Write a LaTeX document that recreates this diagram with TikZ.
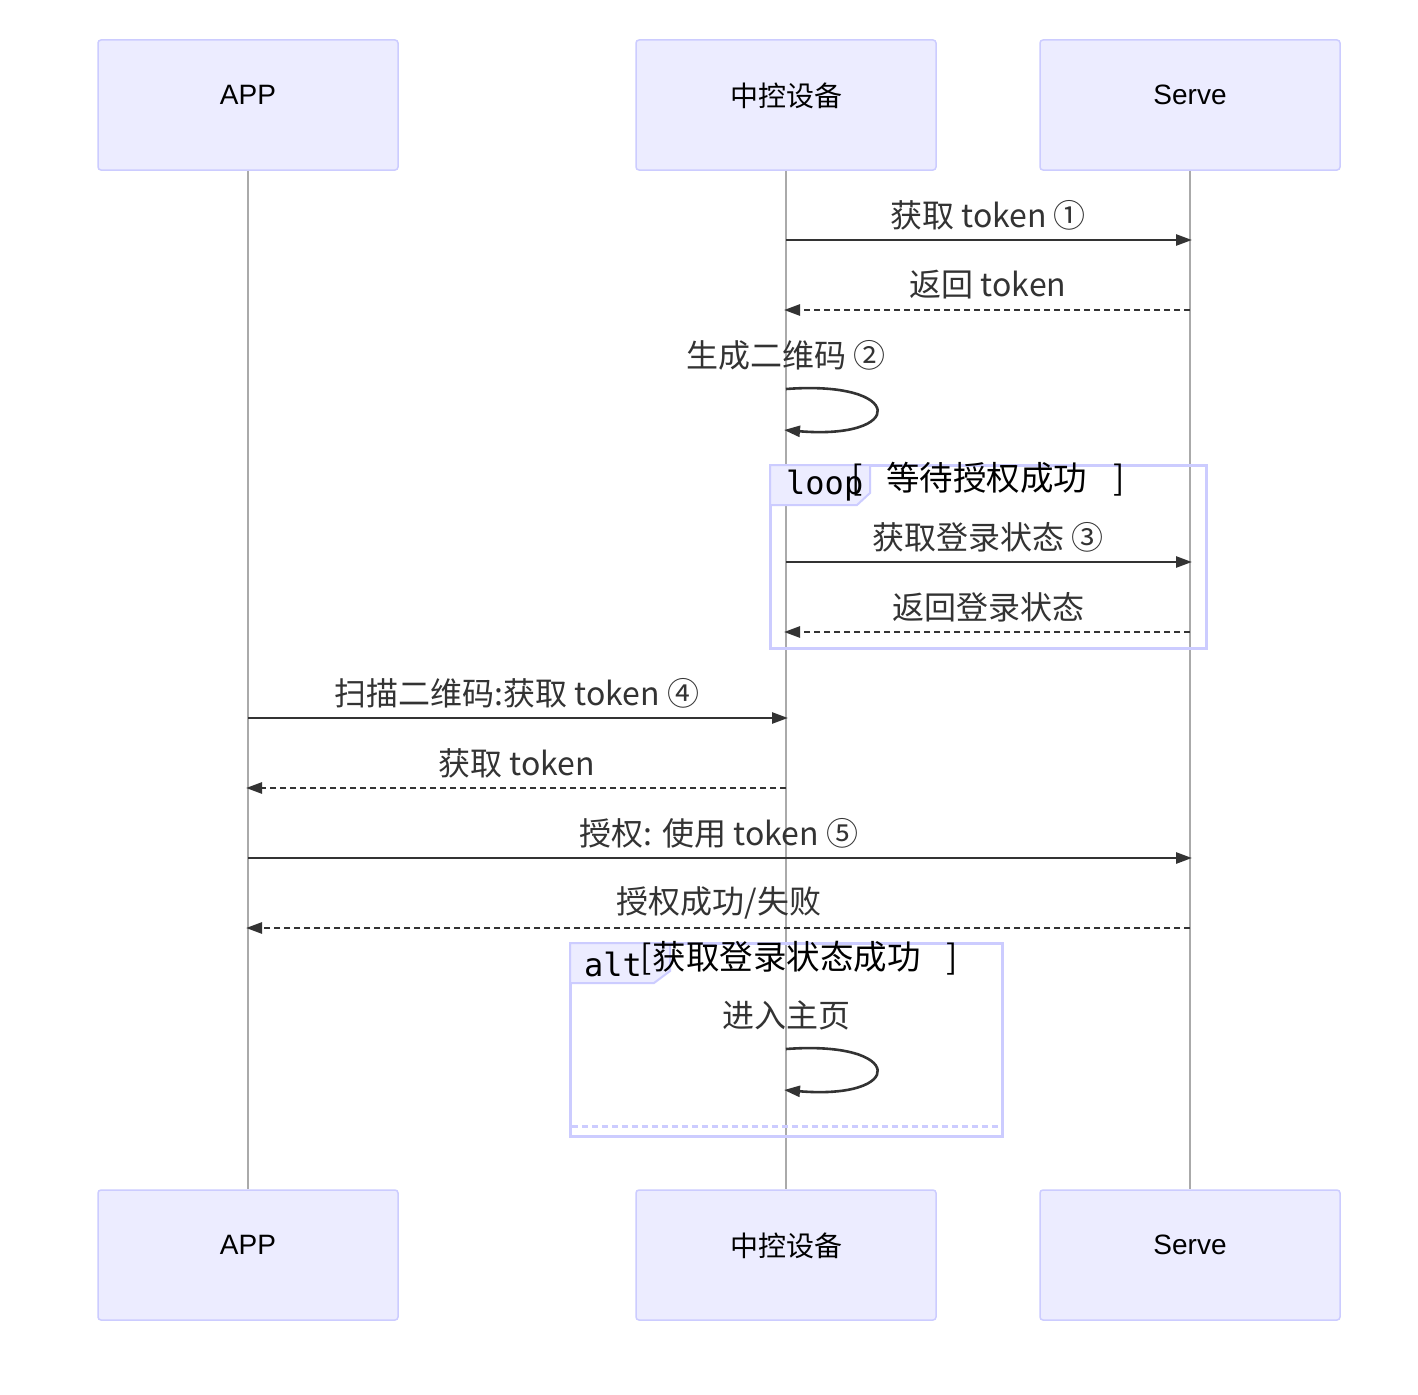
\documentclass[tikz,border=0pt]{standalone}
\usepackage{fontspec}
\setmainfont{Liberation Sans}
\newfontfamily\cjk{Noto Sans CJK SC}
\newfontfamily\monof{DejaVu Sans Mono}
\usetikzlibrary{arrows.meta}
\definecolor{actfill}{HTML}{ECECFF}
\definecolor{actdraw}{HTML}{CCCCFF}
\definecolor{msgc}{HTML}{333333}
\definecolor{lifec}{HTML}{AAAAAA}
\tikzset{
  actor/.style={draw=actdraw, fill=actfill, line width=1.5pt, rounded corners=3pt,
    minimum width=300pt, minimum height=130pt, inner sep=0pt,
    font=\fontsize{28}{32}\selectfont, text=black},
  lifeline/.style={draw=lifec, line width=1.2pt},
  lbl/.style={font=\cjk\fontsize{32}{36}\selectfont, text=msgc, inner sep=0pt},
  msgsolid/.style={draw=msgc, line width=2.6pt, -{Triangle[length=16pt,width=11pt]}},
  msgdash/.style={msgsolid, dash pattern=on 6pt off 4pt},
  frame/.style={draw=actdraw, line width=3pt},
  framelbl/.style={draw=actdraw, fill=actfill, line width=2pt},
  ftitle/.style={font=\cjk\fontsize{33.5}{38}\selectfont, text=black, inner sep=0pt},
  fkind/.style={font=\monof\fontsize{32}{36}\selectfont, text=black, inner sep=0pt, anchor=west}
}
\newcommand{\actxt}[1]{\raisebox{20pt}{#1}}
\begin{document}
\begin{tikzpicture}[x=1pt,y=-1pt]
\useasboundingbox[fill=white] (0,0) rectangle (1418,1394);
% actors
\node[actor] (appT) at (248,105) {\actxt{APP}};
\node[actor] (ctlT) at (786,105) {\actxt{\cjk 中控设备}};
\node[actor] (srvT) at (1190,105) {\actxt{Serve}};
\node[actor] (appB) at (248,1255) {\actxt{APP}};
\node[actor] (ctlB) at (786,1255) {\actxt{\cjk 中控设备}};
\node[actor] (srvB) at (1190,1255) {\actxt{Serve}};
% lifelines
\draw[lifeline] (appT.south) -- (appB.north);
\draw[lifeline] (ctlT.south) -- (ctlB.north);
\draw[lifeline] (srvT.south) -- (srvB.north);

% loop frame
\draw[frame] (770,465) rectangle (1206,648);
\draw[framelbl] (770,465) -- (870,465) -- (870,493) -- (857,505) -- (770,505) -- cycle;
\node[fkind] (loopk) at (786,486) {loop};
\node[ftitle] (loopt) at (988,479) {[\hspace{24pt}等待授权成功\hspace{26pt}]};

% alt frame
\draw[frame] (570,943) rectangle (1002,1136);
\draw[framelbl] (570,943) -- (670,943) -- (670,971) -- (654,983) -- (570,983) -- cycle;
\node[fkind] (altk) at (584,964) {alt};
\node[ftitle] (altt) at (799,958) {[\hspace{1pt}获取登录状态成功\hspace{25pt}]};
\draw[draw=actdraw, line width=3pt, dash pattern=on 6pt off 4pt] (572,1126) -- (1000,1126);

% message 1
\coordinate (m1a) at (786,240); \coordinate (m1b) at (1192,240);
\node[lbl] (l1) at (988,215) {获取 token ①};
\draw[msgsolid] (m1a) -- (m1b);
% message 2
\coordinate (m2a) at (1190,310); \coordinate (m2b) at (784,310);
\node[lbl] (l2) at (988,285) {返回 token};
\draw[msgdash] (m2a) -- (m2b);
% self 1
\coordinate (s1a) at (786,389); \coordinate (s1b) at (784,430);
\node[lbl] (l3) at (786,355) {生成二维码 ②};
\draw[msgsolid] (s1a) .. controls (906,380) and (906,440) .. (s1b);
% message 3
\coordinate (m3a) at (786,562); \coordinate (m3b) at (1192,562);
\node[lbl] (l4) at (988,537) {获取登录状态 ③};
\draw[msgsolid] (m3a) -- (m3b);
% message 4
\coordinate (m4a) at (1190,632); \coordinate (m4b) at (784,632);
\node[lbl] (l5) at (988,607) {返回登录状态};
\draw[msgdash] (m4a) -- (m4b);
% message 5
\coordinate (m5a) at (248,718); \coordinate (m5b) at (788,718);
\node[lbl] (l6) at (517,693) {扫描二维码:获取 token ④};
\draw[msgsolid] (m5a) -- (m5b);
% message 6
\coordinate (m6a) at (786,788); \coordinate (m6b) at (246,788);
\node[lbl] (l7) at (517,763) {获取 token};
\draw[msgdash] (m6a) -- (m6b);
% message 7
\coordinate (m7a) at (248,858); \coordinate (m7b) at (1192,858);
\node[lbl] (l8) at (719,833) {授权: 使用 token ⑤};
\draw[msgsolid] (m7a) -- (m7b);
% message 8
\coordinate (m8a) at (1190,928); \coordinate (m8b) at (246,928);
\node[lbl] (l9) at (719,903) {授权成功/失败};
\draw[msgdash] (m8a) -- (m8b);
% self 2
\coordinate (s2a) at (786,1049); \coordinate (s2b) at (784,1090);
\node[lbl] (l10) at (786,1015) {进入主页};
\draw[msgsolid] (s2a) .. controls (906,1040) and (906,1100) .. (s2b);
\end{tikzpicture}
\end{document}
